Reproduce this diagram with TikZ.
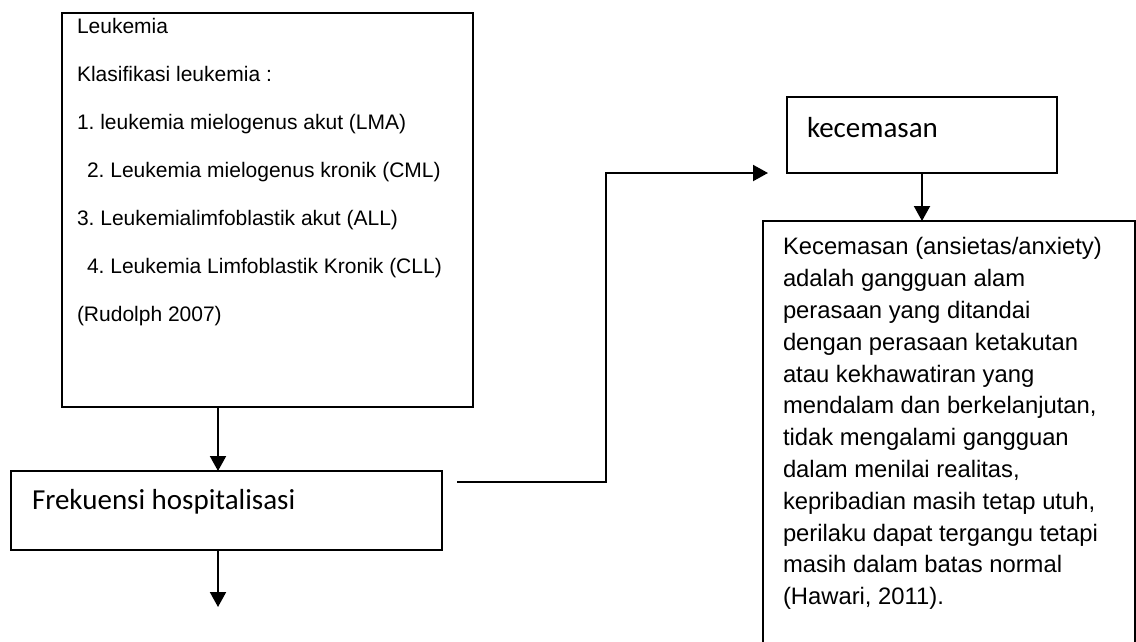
\documentclass[tikz,border=0pt]{standalone}
\usepackage{fontspec}
\newfontfamily\arialfont{Liberation Sans}
\newfontfamily\calibrifont{Carlito}
\usetikzlibrary{arrows.meta}
\frenchspacing
\tikzset{
  box/.style={draw, rectangle, line width=1.6pt, inner sep=0pt, outer sep=0pt},
  boxtext/.style={inner sep=0pt, outer sep=0pt, align=left},
}

\begin{document}
\begin{tikzpicture}[x=1pt,y=-1pt,>={Triangle[length=15pt,width=16pt]},line width=2pt]
\useasboundingbox (0,0) rectangle (1136,641);
\clip (0,0) rectangle (1136,641);
\node[box, line width=2pt, minimum width=411pt, minimum height=394pt] (leuk) at (267.5,210) {};
\node[box, minimum width=431pt, minimum height=79pt] (hosp) at (226.5,510.5) {};
\node[box, minimum width=270pt, minimum height=76pt] (cemas) at (922,135) {};
\node[box, minimum width=372pt, minimum height=479pt] (def) at (949,460.5) {};
\node[boxtext, anchor=north west, font=\arialfont\fontsize{21}{48}\selectfont] (leuktext) at ([shift={(15,5.7)}]leuk.north west) {Leukemia\\
Klasifikasi leukemia :\\
1. leukemia mielogenus akut (LMA)\\
\hspace*{10pt}2. Leukemia mielogenus kronik (CML)\\
3. Leukemialimfoblastik akut (ALL)\\
\hspace*{10pt}4. Leukemia Limfoblastik Kronik (CLL)\\
(Rudolph 2007)};
\node[boxtext, anchor=base west, font=\calibrifont\fontsize{29}{35}\selectfont] (hosptext) at ([shift={(21,-1.5)}]hosp.west) {Frekuensi hospitalisasi};
\node[boxtext, anchor=base west, font=\calibrifont\fontsize{29}{35}\selectfont] (cemastext) at ([shift={(20,2)}]cemas.west) {kecemasan};
\node[boxtext, anchor=north west, font=\arialfont\fontsize{23.8}{31.8}\selectfont] (deftext) at ([shift={(20,16.6)}]def.north west) {Kecemasan (ansietas/anxiety)\\
adalah gangguan alam\\
perasaan yang ditandai\\
dengan perasaan ketakutan\\
atau kekhawatiran yang\\
mendalam dan berkelanjutan,\\
tidak mengalami gangguan\\
dalam menilai realitas,\\
kepribadian masih tetap utuh,\\
perilaku dapat tergangu tetapi\\
masih dalam batas normal\\
(Hawari, 2011).};
% connectors
\coordinate (ax) at (218,0);
\coordinate (hend) at (218,607);
\coordinate (hout) at ([shift={(15,-28.5)}]hosp.east);
\coordinate (cin) at ([shift={(-19,0)}]cemas.south west);
\draw[->] (leuk.south -| ax) -- (hosp.north -| ax);
\draw[->] (hosp.south -| ax) -- (hend);
\draw[->] (hout) -- ++(149,0) |- (cin);
\draw[->] (cemas.south) -- (cemas.south |- def.north);
\end{tikzpicture}
\end{document}
